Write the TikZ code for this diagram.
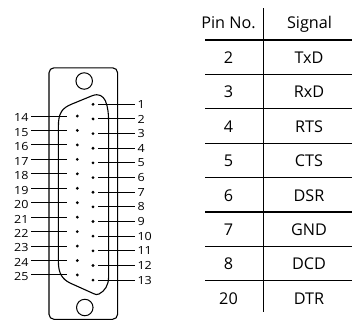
\documentclass[tikz,border=0pt]{standalone}
\usepackage{fontspec}
\setmainfont{Open Sans}
\newfontfamily\pinfont[FakeStretch=1.12]{Open Sans}
\begin{document}
\begin{tikzpicture}[x=1pt,y=-1pt,
  lead/.style={line width=1pt},
  shell/.style={line width=1.1pt},
  pin/.style={circle,fill,inner sep=0pt,minimum size=3.1pt},
  hole/.style={draw,circle,line width=1pt,minimum size=16.5pt,inner sep=0pt},
  plbl/.style={font=\pinfont\fontsize{11.2}{13}\selectfont,inner ysep=0pt,inner xsep=2.3pt},
  tbl/.style={line width=1.1pt},
  ttxt/.style={font=\fontsize{16.2}{19}\selectfont,inner sep=0pt,anchor=base}]
\useasboundingbox (0,0) rectangle (352,321);
% connector body
\draw[shell, rounded corners=5pt] (49,67.8) rectangle (117.6,319.3);
\node[hole] (h1) at (84.2,81) {};
\node[hole] (h2) at (84.8,307.5) {};
\draw[shell] (58.4,262) -- (58.4,126)
  .. controls (58.4,113) and (62,108) .. (72,104) -- (92,95.8)
  .. controls (99,93) and (103,96) .. (105.5,101)
  .. controls (108,107) and (108.6,114) .. (108.6,124) -- (108.6,277)
  .. controls (108.6,285) and (105,291) .. (99,294)
  .. controls (97,295) and (95.5,294.5) .. (94,293.8) -- (70,283)
  .. controls (62,279) and (58.4,273) .. (58.4,262);
% right column pins 1-13
\foreach \i in {1,...,13}{
  \pgfmathsetmacro\yy{104.3+(\i-1)*14.65}
  \node[pin] (p\i) at (93,\yy) {};
  \coordinate (a\i) at (98,\yy);
  \node[plbl,anchor=west] (l\i) at (135,\yy) {\i};
  \draw[lead] (a\i) -- (l\i.west);
}
% left column pins 14-25
\foreach \j in {14,...,25}{
  \pgfmathsetmacro\yy{116+(\j-14)*14.45}
  \node[pin] (p\j) at (77.3,\yy) {};
  \coordinate (b\j) at (67,\yy);
  \coordinate (c\j) at (31,\yy);
  \node[plbl,anchor=east] (l\j) at (31,\yy+1.8) {\j};
  \draw[lead] (c\j) -- (b\j);
}
% table
\draw[tbl] (263.3,8.3) -- (263.3,311.7);
\foreach \k in {0,...,7}{
  \draw[tbl] (205,{40+34.4*\k}) -- (352,{40+34.4*\k});
}
\node[ttxt] (hp) at (228.5,28.5) {Pin No.};
\node[ttxt] (hs) at (309.5,28.5) {Signal};
\foreach \p/\s [count=\k from 0] in {2/TxD,3/RxD,4/RTS,5/CTS,6/DSR,7/GND,8/DCD,20/DTR}{
  \node[ttxt] (n\k) at (228.5,{57.2+34.4*\k+6.2}) {\p};
  \node[ttxt] (s\k) at (309,{57.2+34.4*\k+6.2}) {\s};
}
\end{tikzpicture}
\end{document}
